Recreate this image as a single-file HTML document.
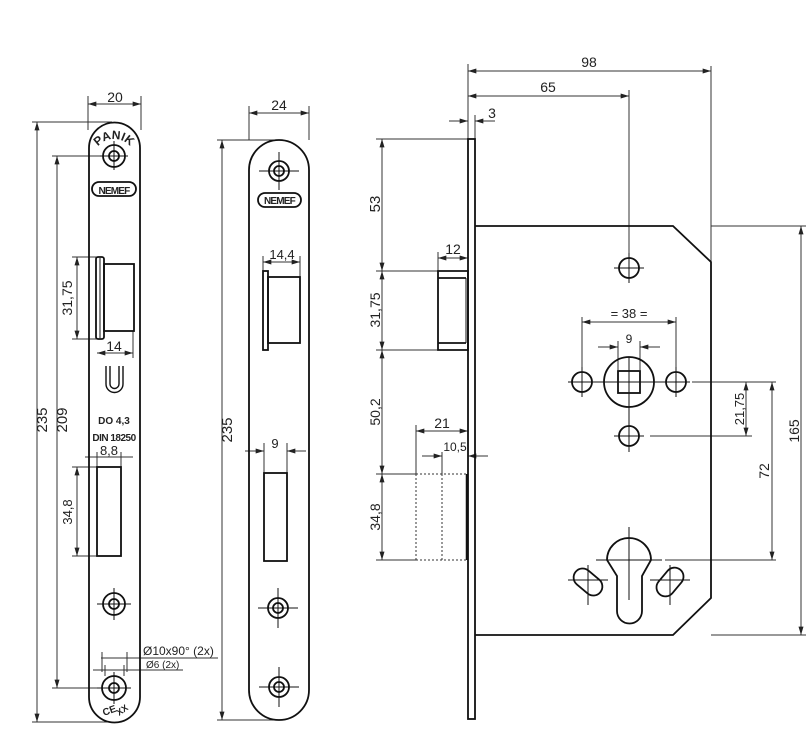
<!DOCTYPE html>
<html><head><meta charset="utf-8"><style>
html,body{margin:0;padding:0;background:#fff;}
svg{display:block;}
text{font-family:"Liberation Sans",sans-serif;fill:#222;}
</style></head><body>
<svg width="806" height="743" viewBox="0 0 806 743" xmlns="http://www.w3.org/2000/svg">
<defs>
<marker id="a" viewBox="0 0 10 6" refX="10" refY="3" markerWidth="9" markerHeight="5" orient="auto-start-reverse" markerUnits="userSpaceOnUse"><path d="M0,0 L10,3 L0,6 z" fill="#222"/></marker>
<path id="pk" d="M93,160 A21,21 0 0 1 135,160" fill="none"/>
</defs>
<g fill="none" stroke="#333" stroke-width="1">
<line x1="88" y1="104" x2="141" y2="104" marker-start="url(#a)" marker-end="url(#a)"/>
<line x1="88" y1="96" x2="88" y2="130"/><line x1="141" y1="96" x2="141" y2="130"/>
<line x1="32" y1="122" x2="112" y2="122"/><line x1="32" y1="722" x2="112" y2="722"/>
<line x1="37" y1="122" x2="37" y2="722" marker-start="url(#a)" marker-end="url(#a)"/>
<line x1="52" y1="156" x2="100" y2="156"/><line x1="52" y1="688" x2="100" y2="688"/>
<line x1="57" y1="156" x2="57" y2="688" marker-start="url(#a)" marker-end="url(#a)"/>
<line x1="72" y1="257" x2="98" y2="257"/><line x1="72" y1="339" x2="98" y2="339"/>
<line x1="77" y1="257" x2="77" y2="339" marker-start="url(#a)" marker-end="url(#a)"/>
<line x1="97" y1="353" x2="133" y2="353" marker-start="url(#a)" marker-end="url(#a)"/>
<line x1="133" y1="331" x2="133" y2="358"/>
<line x1="85" y1="457" x2="133" y2="457"/>
<line x1="97" y1="452" x2="97" y2="467"/><line x1="121" y1="452" x2="121" y2="467"/>
<line x1="72" y1="467" x2="97" y2="467"/><line x1="72" y1="556" x2="97" y2="556"/>
<line x1="77" y1="467" x2="77" y2="556" marker-start="url(#a)" marker-end="url(#a)"/>
<line x1="101" y1="658" x2="218" y2="658"/><line x1="93" y1="670" x2="183" y2="670"/>
<line x1="102" y1="652" x2="102" y2="672"/><line x1="127" y1="652" x2="127" y2="672"/>
<line x1="105" y1="665" x2="105" y2="676"/><line x1="124" y1="665" x2="124" y2="676"/>
<line x1="249" y1="113" x2="309" y2="113" marker-start="url(#a)" marker-end="url(#a)"/>
<line x1="249" y1="106" x2="249" y2="140"/><line x1="309" y1="106" x2="309" y2="140"/>
<line x1="217" y1="140" x2="275" y2="140"/><line x1="217" y1="720" x2="275" y2="720"/>
<line x1="222" y1="140" x2="222" y2="720" marker-start="url(#a)" marker-end="url(#a)"/>
<line x1="263" y1="262" x2="300" y2="262" marker-start="url(#a)" marker-end="url(#a)"/>
<line x1="263" y1="256" x2="263" y2="271"/><line x1="300" y1="256" x2="300" y2="277"/>
<line x1="245" y1="451" x2="264" y2="451" marker-end="url(#a)"/><line x1="306" y1="451" x2="287" y2="451" marker-end="url(#a)"/>
<line x1="264" y1="443" x2="264" y2="473"/><line x1="287" y1="443" x2="287" y2="473"/>
<line x1="468" y1="64" x2="468" y2="139"/>
<line x1="711" y1="66" x2="711" y2="262"/>
<line x1="629" y1="90" x2="629" y2="258"/>
<line x1="468" y1="71" x2="711" y2="71" marker-start="url(#a)" marker-end="url(#a)"/>
<line x1="468" y1="96" x2="629" y2="96" marker-start="url(#a)" marker-end="url(#a)"/>
<line x1="475" y1="115" x2="475" y2="139"/>
<line x1="449" y1="121" x2="468" y2="121" marker-end="url(#a)"/><line x1="495" y1="121" x2="475" y2="121" marker-end="url(#a)"/>
<line x1="376" y1="139" x2="468" y2="139"/><line x1="376" y1="271" x2="438" y2="271"/>
<line x1="376" y1="350" x2="438" y2="350"/><line x1="376" y1="474" x2="416" y2="474"/><line x1="376" y1="560" x2="416" y2="560"/>
<line x1="382" y1="139" x2="382" y2="271" marker-start="url(#a)" marker-end="url(#a)"/>
<line x1="382" y1="271" x2="382" y2="350" marker-start="url(#a)" marker-end="url(#a)"/>
<line x1="382" y1="350" x2="382" y2="474" marker-start="url(#a)" marker-end="url(#a)"/>
<line x1="382" y1="474" x2="382" y2="560" marker-start="url(#a)" marker-end="url(#a)"/>
<line x1="438" y1="252" x2="438" y2="271"/>
<line x1="438" y1="258" x2="468" y2="258" marker-start="url(#a)" marker-end="url(#a)"/>
<line x1="416" y1="425" x2="416" y2="474"/>
<line x1="416" y1="431" x2="468" y2="431" marker-start="url(#a)" marker-end="url(#a)"/>
<line x1="442" y1="452" x2="442" y2="474"/>
<line x1="422" y1="456" x2="442" y2="456" marker-end="url(#a)"/><line x1="488" y1="456" x2="468" y2="456" marker-end="url(#a)"/>
<line x1="582" y1="317" x2="582" y2="370"/><line x1="676" y1="317" x2="676" y2="370"/>
<line x1="582" y1="322" x2="676" y2="322" marker-start="url(#a)" marker-end="url(#a)"/>
<line x1="618" y1="341" x2="618" y2="370"/><line x1="640" y1="341" x2="640" y2="370"/>
<line x1="598" y1="347" x2="618" y2="347" marker-end="url(#a)"/><line x1="660" y1="347" x2="640" y2="347" marker-end="url(#a)"/>
<line x1="692" y1="382" x2="776" y2="382"/><line x1="650" y1="436" x2="752" y2="436"/>
<line x1="665" y1="560" x2="776" y2="560"/>
<line x1="711" y1="226" x2="806" y2="226"/><line x1="711" y1="635" x2="806" y2="635"/>
<line x1="746" y1="382" x2="746" y2="436" marker-start="url(#a)" marker-end="url(#a)"/>
<line x1="772" y1="382" x2="772" y2="560" marker-start="url(#a)" marker-end="url(#a)"/>
<line x1="801" y1="226" x2="801" y2="635" marker-start="url(#a)" marker-end="url(#a)"/>
</g>

<g fill="none" stroke="#111" stroke-width="1.8">
<path d="M89,697 L89,148 A25.5,25.5 0 0 1 140,148 L140,697 A25.5,25.5 0 0 1 89,697 Z"/>
<rect x="96" y="257" width="8" height="82" rx="2"/>
<line x1="100" y1="258" x2="100" y2="338" stroke-width="1"/>
<rect x="104" y="264" width="30" height="67"/>
<rect x="97" y="467" width="24" height="89"/>
<circle cx="114" cy="156" r="11"/><circle cx="114" cy="156" r="5"/>
<circle cx="114" cy="604" r="11"/><circle cx="114" cy="604" r="5"/>
<circle cx="114" cy="688" r="12"/><circle cx="114" cy="688" r="5"/>
<rect x="92" y="182" width="44" height="14" rx="7"/>
<path d="M106,366 L106,384 A8,8 0 0 0 123,384 L123,366 M110,366 L110,384 A4,4 0 0 0 119,384 L119,366" stroke-width="1.4"/>
</g>
<g stroke="#111" stroke-width="1">
<line x1="100" y1="156" x2="128" y2="156"/><line x1="114" y1="141" x2="114" y2="170"/>
<line x1="97" y1="604" x2="131" y2="604"/><line x1="114" y1="588" x2="114" y2="620"/>
<line x1="97" y1="688" x2="131" y2="688"/><line x1="114" y1="672" x2="114" y2="704"/>
</g>
<text x="114" y="194" font-size="10" text-anchor="middle" font-weight="bold" letter-spacing="-0.8">NEMEF</text>
<text font-size="12" font-weight="bold" text-anchor="middle"><textPath href="#pk" startOffset="50%">PANIK</textPath></text>
<text x="114" y="424" font-size="10" font-weight="bold" text-anchor="middle">DO 4,3</text>
<text x="114" y="441" font-size="10" font-weight="bold" text-anchor="middle" letter-spacing="-0.5">DIN 18250</text>
<text transform="translate(104,716) rotate(-20)" font-size="10" font-weight="bold">CE</text>
<text transform="translate(119,716) rotate(-35)" font-size="9" font-weight="bold">XX</text>
<text x="115" y="102" font-size="14" text-anchor="middle">20</text>
<text x="114" y="351" font-size="14" text-anchor="middle">14</text>
<text x="109" y="455" font-size="13" text-anchor="middle">8,8</text>
<text x="143" y="655" font-size="12">Ø10x90° (2x)</text>
<text x="146" y="668" font-size="10">Ø6 (2x)</text>
<text transform="translate(47,420) rotate(-90)" font-size="15" text-anchor="middle">235</text>
<text transform="translate(67,420) rotate(-90)" font-size="15" text-anchor="middle">209</text>
<text transform="translate(72,298) rotate(-90)" font-size="14" text-anchor="middle">31,75</text>
<text transform="translate(72,512) rotate(-90)" font-size="13" text-anchor="middle">34,8</text>

<g fill="none" stroke="#111" stroke-width="1.8">
<path d="M249,170 A30,30 0 0 1 309,170 L309,690 A30,30 0 0 1 249,690 Z"/>
<rect x="263" y="271" width="5" height="79"/>
<rect x="268" y="277" width="32" height="66"/>
<rect x="264" y="473" width="23" height="88"/>
<circle cx="279" cy="171" r="10"/><circle cx="279" cy="171" r="5"/>
<circle cx="278" cy="608" r="10"/><circle cx="278" cy="608" r="5"/>
<circle cx="279" cy="687" r="10"/><circle cx="279" cy="687" r="5"/>
<rect x="258" y="193" width="43" height="14" rx="7"/>
</g>
<g stroke="#111" stroke-width="1">
<line x1="259" y1="171" x2="299" y2="171"/><line x1="279" y1="152" x2="279" y2="190"/>
<line x1="258" y1="608" x2="298" y2="608"/><line x1="278" y1="588" x2="278" y2="628"/>
<line x1="259" y1="687" x2="299" y2="687"/><line x1="279" y1="667" x2="279" y2="707"/>
</g>
<text x="279.5" y="204" font-size="10" text-anchor="middle" font-weight="bold" letter-spacing="-0.8">NEMEF</text>
<text x="279" y="110" font-size="14" text-anchor="middle">24</text>
<text x="282" y="259" font-size="13" text-anchor="middle">14,4</text>
<text x="275" y="448" font-size="13" text-anchor="middle">9</text>
<text transform="translate(232,430) rotate(-90)" font-size="15" text-anchor="middle">235</text>

<g fill="none" stroke="#111" stroke-width="1.8">
<rect x="468" y="139" width="7" height="580"/>
<path d="M475,226 L673,226 L711,262 L711,598 L673,635 L475,635"/>
<path d="M438,271 L468,271 L468,350 L438,350 Z M438,278 L466,278 M438,343 L466,343"/>
<line x1="466" y1="278" x2="466" y2="343" stroke-width="1"/>
<line x1="467" y1="474" x2="467" y2="560" stroke-width="2.5"/>
<circle cx="629" cy="268" r="10"/>
<circle cx="629" cy="382" r="25"/>
<rect x="618" y="371" width="22" height="22"/>
<circle cx="582" cy="382" r="10"/><circle cx="676" cy="382" r="10"/>
<circle cx="629" cy="436" r="10"/>
<path d="M607,560 A22,22 0 1 1 651,560 L642,576 L642,611 A12.5,12.5 0 0 1 617,611 L617,576 Z"/>
<rect x="572" y="573" width="32" height="18" rx="9" transform="rotate(40 588 582)"/>
<rect x="654" y="573" width="32" height="18" rx="9" transform="rotate(-50 670 582)"/>
</g>
<g fill="none" stroke="#333" stroke-width="1" stroke-dasharray="2,2">
<path d="M416,474 L467,474 M416,560 L467,560 M416,474 L416,560 M442,474 L442,560"/>
</g>
<g stroke="#111" stroke-width="1">
<line x1="614" y1="268" x2="644" y2="268"/><line x1="629" y1="253" x2="629" y2="283"/>
<line x1="568" y1="382" x2="690" y2="382"/><line x1="629" y1="357" x2="629" y2="452"/>
<line x1="582" y1="367" x2="582" y2="397"/><line x1="676" y1="367" x2="676" y2="397"/>
<line x1="614" y1="436" x2="644" y2="436"/>
<line x1="596" y1="560" x2="662" y2="560"/><line x1="629" y1="527" x2="629" y2="600"/>
<line x1="568" y1="580" x2="608" y2="580"/><line x1="588" y1="565" x2="588" y2="605"/>
<line x1="650" y1="580" x2="690" y2="580"/><line x1="670" y1="565" x2="670" y2="605"/>
</g>
<text x="589" y="67" font-size="14" text-anchor="middle">98</text>
<text x="548" y="92" font-size="14" text-anchor="middle">65</text>
<text x="492" y="118" font-size="14" text-anchor="middle">3</text>
<text x="453" y="254" font-size="14" text-anchor="middle">12</text>
<text x="442" y="428" font-size="14" text-anchor="middle">21</text>
<text x="455" y="451" font-size="12" text-anchor="middle">10,5</text>
<text x="629" y="318" font-size="13" text-anchor="middle">= 38 =</text>
<text x="629" y="343" font-size="12" text-anchor="middle">9</text>
<text transform="translate(380,204) rotate(-90)" font-size="15" text-anchor="middle">53</text>
<text transform="translate(380,310) rotate(-90)" font-size="14" text-anchor="middle">31,75</text>
<text transform="translate(380,412) rotate(-90)" font-size="14" text-anchor="middle">50,2</text>
<text transform="translate(380,517) rotate(-90)" font-size="14" text-anchor="middle">34,8</text>
<text transform="translate(744,409) rotate(-90)" font-size="13" text-anchor="middle">21,75</text>
<text transform="translate(769,471) rotate(-90)" font-size="14" text-anchor="middle">72</text>
<text transform="translate(799,431) rotate(-90)" font-size="14" text-anchor="middle">165</text>
</svg>
</body></html>
